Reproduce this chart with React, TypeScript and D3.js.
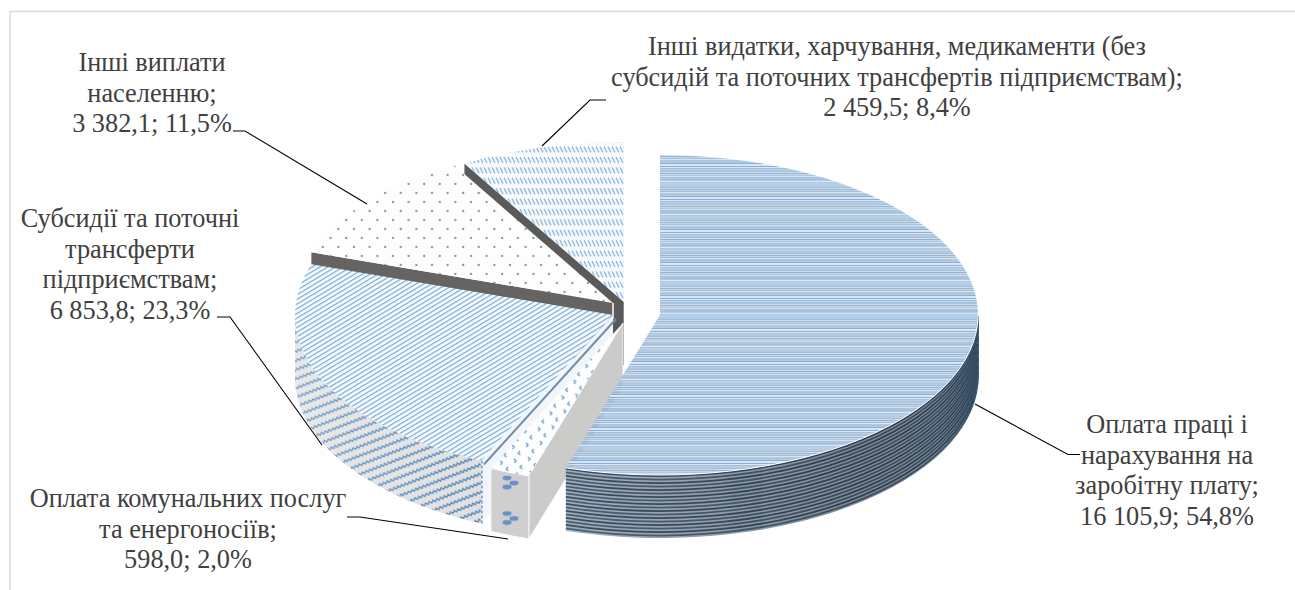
import React from "react";
import * as d3 from "d3";

const categories = [
  "Оплата праці і нарахування на заробітну плату",
  "Оплата комунальних послуг та енергоносіїв",
  "Субсидії та поточні трансферти підприємствам",
  "Інші виплати населенню",
  "Інші видатки, харчування, медикаменти",
];
const amounts = [16105.9, 598.0, 6853.8, 3382.1, 2459.5];
const labelLines = [
  ["Оплата праці і", "нарахування на", "заробітну плату;", "16 105,9; 54,8%"],
  ["Оплата комунальних послуг", "та енергоносіїв;", "598,0; 2,0%"],
  ["Субсидії та поточні", "трансферти", "підприємствам;", "6 853,8; 23,3%"],
  ["Інші виплати", "населенню;", "3 382,1; 11,5%"],
  ["Інші видатки, харчування, медикаменти (без", "субсидій та поточних трансфертів підприємствам);", "2 459,5; 8,4%"],
];

// layout
const RX = 318, RY = 160, DEPTH = 63;
const centers: [number, number][] = [[660, 315], [623, 323], [613, 315], [613, 303], [624, 302]];
const labelPos: [number, number][] = [[1167, 433], [188, 507], [130, 227], [152, 71], [897, 55]];
const LH = 30.6;
const leaders: [number, number][][] = [
  [[975, 404], [1068, 454.5], [1080, 454.5]],
  [[347, 517], [360, 517], [508, 539]],
  [[217, 317], [230, 317], [322, 445]],
  [[233, 131], [245, 131], [367, 204]],
  [[606, 100], [590, 100], [542, 146]],
];

const arcs = d3.pie<number>().sort(null).value((d) => d)(amounts);
const pt = (c: [number, number], a: number, dy = 0): [number, number] => [c[0] + RX * Math.sin(a), c[1] - RY * Math.cos(a) + dy];
const sector = (c: [number, number], a0: number, a1: number) => {
  const p0 = pt(c, a0), p1 = pt(c, a1);
  return `M${c[0]},${c[1]}L${p0[0]},${p0[1]}A${RX},${RY} 0 ${a1 - a0 > Math.PI ? 1 : 0} 1 ${p1[0]},${p1[1]}Z`;
};
const rim = (c: [number, number], a0: number, a1: number, dy = 0) => {
  const p0 = pt(c, a0, dy), p1 = pt(c, a1, dy);
  return `M${p0[0]},${p0[1]}A${RX},${RY} 0 0 1 ${p1[0]},${p1[1]}`;
};
const rimWall = (c: [number, number], a0: number, a1: number) => {
  const p0 = pt(c, a0), p1 = pt(c, a1), q1 = pt(c, a1, DEPTH), q0 = pt(c, a0, DEPTH);
  return `M${p0[0]},${p0[1]}A${RX},${RY} 0 0 1 ${p1[0]},${p1[1]}L${q1[0]},${q1[1]}A${RX},${RY} 0 0 0 ${q0[0]},${q0[1]}Z`;
};
const cutWall = (c: [number, number], a: number) => {
  const p = pt(c, a), q = pt(c, a, DEPTH);
  return `M${c[0]},${c[1]}L${p[0]},${p[1]}L${q[0]},${q[1]}L${c[0]},${c[1] + DEPTH}Z`;
};

const a = arcs.map((d) => [d.startAngle, d.endAngle]);
const mainRows = ["#d6e6f5", "#6fa4d8", "#e4eef8", "#7c98b2", "#c9dcee", "#5f9ad6", "#eef4fa", "#8a9fb3", "#d8e6f3", "#74a6da", "#f4f8fc", "#768fa8", "#bcd4ea", "#6ba0d6", "#dfe9f3"];
const wallLines = d3.range(1, DEPTH, 3.5);
const wallColors = ["#3b4e62", "#42617f"];

export default function App() {
  const m = a[0], u = a[1], s = a[2], d = a[3], l = a[4];
  return (
    <svg width={1295} height={590} style={{ position: "absolute", left: 0, top: 0, background: "#fff" }} fontFamily="'Liberation Serif', 'Times New Roman', serif">
      <defs>
        <pattern id="mainTop" patternUnits="userSpaceOnUse" width={8} height={mainRows.length * 1.1}>
          {mainRows.map((c, i) => <rect key={i} x={0} y={i * 1.1} width={8} height={1.15} fill={c} />)}
        </pattern>
        <pattern id="subsTop" patternUnits="userSpaceOnUse" width={8} height={4} patternTransform="rotate(-31)">
          <rect width={8} height={4} fill="#f9fcfe" />
          <rect y={1} width={8} height={1.2} fill="#74a7d8" />
        </pattern>
        <pattern id="subsWall" patternUnits="userSpaceOnUse" width={4} height={8.6} patternTransform="rotate(-21)">
          <rect width={4} height={8.6} fill="#e0e0e0" />
          <path d="M0,4 L1,3 L2,4 L3,5 L4,4" fill="none" stroke="#4a80b8" strokeWidth={1.5} />
        </pattern>
        <pattern id="dotTop" patternUnits="userSpaceOnUse" width={15.6} height={18}>
          <rect width={15.6} height={18} fill="#fdfdfb" />
          <circle cx={3} cy={4} r={1.15} fill="#7596bb" />
          <circle cx={10.8} cy={13} r={1.15} fill="#7596bb" />
        </pattern>
        <pattern id="lastTop" patternUnits="userSpaceOnUse" width={4} height={10.4}>
          <rect width={4} height={10.4} fill="#f7fafd" />
          <path d="M0,1 L3,7 M4,1 L7,7 M-4,1 L-1,7" fill="none" stroke="#8db5da" strokeWidth={1.3} />
        </pattern>
        <pattern id="utilTop" patternUnits="userSpaceOnUse" width={14} height={14} patternTransform="rotate(-8)">
          <rect width={14} height={14} fill="#fdfefe" />
          <path d="M4,1 L2,3 L4,5" fill="none" stroke="#6f9fd0" strokeWidth={1.4} />
          <path d="M11,8 L13,10 L11,12" fill="none" stroke="#6f9fd0" strokeWidth={1.4} />
        </pattern>
        <pattern id="utilFront" patternUnits="userSpaceOnUse" x={490} y={472} width={38} height={35.5}>
          <rect width={38} height={35.5} fill="#cfcfcf" />
          <g fill="#6593c6">
            <ellipse cx={17} cy={6} rx={4.5} ry={2.4} />
            <ellipse cx={24} cy={11} rx={4.5} ry={2.4} />
            <ellipse cx={17} cy={15} rx={4.5} ry={2.4} />
          </g>
        </pattern>
        <linearGradient id="mainShade" x1="0" x2="1" y1="0" y2="0">
          <stop offset="0" stopColor="#000" stopOpacity={0} />
          <stop offset="0.75" stopColor="#000" stopOpacity={0.2} />
          <stop offset="1" stopColor="#000" stopOpacity={0.12} />
        </linearGradient>
        <linearGradient id="subsFade" x1="0" x2="1" y1="0" y2="0">
          <stop offset="0" stopColor="#fff" stopOpacity={0.25} />
          <stop offset="1" stopColor="#fff" stopOpacity={0} />
        </linearGradient>
      </defs>

      <path d="M10,590V11.5H1295" fill="none" stroke="#d9d9d9" strokeWidth={1.5} />

      {/* last slice */}
      <path d={cutWall(centers[4], l[0])} fill="#5a5a5a" />
      <path d={sector(centers[4], l[0], l[1])} fill="url(#lastTop)" />
      <line x1={623.5} x2={623.5} y1={centers[4][1]} y2={centers[4][1] + DEPTH} stroke="#8a8a8a" strokeWidth={1} />

      {/* other payments */}
      <path d={cutWall(centers[3], d[0])} fill="#666463" />
      <path d={sector(centers[3], d[0], d[1])} fill="url(#dotTop)" />
      <line x1={613} x2={613} y1={centers[3][1]} y2={centers[3][1] + 16} stroke="#fff" strokeWidth={1.5} />

      {/* subsidies */}
      <path d={cutWall(centers[2], s[0])} fill="#f2f6fa" />
      <path d={rimWall(centers[2], s[0], Math.PI * 1.5)} fill="url(#subsWall)" />
      <path d={rimWall(centers[2], s[0], Math.PI * 1.5)} fill="url(#subsFade)" />
      <path d={sector(centers[2], s[0], s[1])} fill="url(#subsTop)" />
      <line x1={pt(centers[2], s[0])[0] + 3} y1={pt(centers[2], s[0])[1] + 4} x2={centers[2][0] + 3} y2={centers[2][1] + 4} stroke="#6d8fae" strokeWidth={2} />
      <line x1={pt(centers[2], s[0])[0] + 1} y1={pt(centers[2], s[0])[1]} x2={pt(centers[2], s[0])[0] + 1} y2={pt(centers[2], s[0])[1] + DEPTH} stroke="#6f97c0" strokeWidth={1.5} strokeDasharray="3 2" />

      {/* utilities */}
      <path d={cutWall(centers[1], u[0])} fill="#cbcbca" stroke="#fff" strokeWidth={0.8} />
      <path d={rimWall(centers[1], u[0], u[1])} fill="url(#utilFront)" stroke="#fff" strokeWidth={0.8} />
      <path d={sector(centers[1], u[0], u[1])} fill="url(#utilTop)" />

      {/* main */}
      <path d={rimWall(centers[0], Math.PI / 2, m[1])} fill="#a4acb4" />
      {wallLines.map((dy, i) => (
        <path key={i} d={rim(centers[0], Math.PI / 2, m[1], dy)} fill="none" stroke={wallColors[i % wallColors.length]} strokeWidth={1.8} />
      ))}
      <path d={rimWall(centers[0], Math.PI / 2, m[1])} fill="url(#mainShade)" />
      <path d={sector(centers[0], m[0], m[1])} fill="url(#mainTop)" />
      <path d={rim(centers[0], Math.PI / 2, m[1])} fill="none" stroke="#fff" strokeWidth={1} />

      {leaders.map((pts, i) => (
        <path key={i} d={d3.line()(pts) as string} fill="none" stroke="#000" strokeWidth={1.1} />
      ))}

      {labelLines.map((lines, i) => (
        <text key={i} textAnchor="middle" fontSize={26.3} fill="#404040">
          {lines.map((t, j) => (
            <tspan key={j} x={labelPos[i][0]} y={labelPos[i][1] + j * LH}>{t}</tspan>
          ))}
        </text>
      ))}
    </svg>
  );
}
